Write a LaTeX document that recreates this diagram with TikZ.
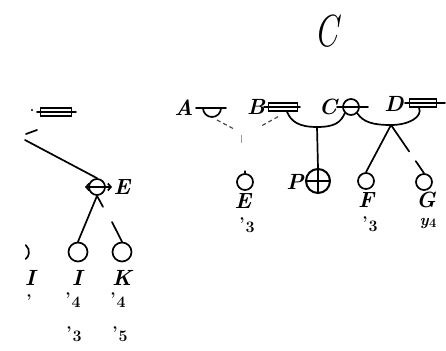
\documentclass[tikz,border=0pt]{standalone}
\usepackage{fontspec}
\usetikzlibrary{calc,arrows.meta}
\newcommand\tkmark[1]{\raisebox{1pt}{\fontsize{17}{17}\selectfont\bfseries'}\kern0.8pt\raisebox{-2pt}{\fontsize{16}{16}\selectfont\bfseries #1}}
\begin{document}
\begin{tikzpicture}[x=1pt,y=-1pt,
  lbl/.style={font=\bfseries\itshape\fontsize{22}{22}\selectfont, inner sep=0pt},
  subl/.style={font=\bfseries\fontsize{16}{16}\selectfont, inner sep=0pt},
  ln/.style={line width=1.7pt, line cap=round},
  circ/.style={draw, circle, line width=1.7pt, inner sep=0pt, minimum size=#1},
  circ/.default=16pt,
  rbox/.style={draw, rectangle, line width=1.4pt, inner sep=0pt, minimum width=29pt, minimum height=8pt},
  dsh/.style={line width=1.2pt, dashed, dash pattern=on 4pt off 3pt, black!70}]
\useasboundingbox (0,0) rectangle (446,350);

% title
\node[inner sep=0pt] (title) at (326,31) {\scalebox{0.75}[1]{\fontsize{45}{45}\selectfont\itshape C}};

% ---------- right part, top row ----------
\node[lbl] (lA) at (184,108) {A};
\coordinate (A) at (212,108);
\draw[ln] ([xshift=-16pt]A) -- ([xshift=14pt]A);
\draw[ln] ([xshift=-9pt]A) arc[start angle=180, end angle=0, radius=9];

\node[lbl] (lB) at (256,107) {B};
\node[rbox] (B) at (283,107) {};
\draw[ln] (264,107) -- (300,107);

\node[lbl] (lC) at (328,107) {C};
\node[circ] (C) at (351,107) {};
\draw[ln] (337,107) -- (368,107);

\node[lbl] (lD) at (394,104) {D};
\node[rbox, minimum width=27pt] (D) at (423,103) {};
\draw[ln] (405,103) -- (445,103);

% junctions
\coordinate (jBC) at (317,127);
\coordinate (jCD) at (391,125);

% ---------- right part, bottom row ----------
\node[circ] (Ec) at (245,182) {};
\draw[ln] (Ec.north) -- ++(0,-2);
\node[lbl] (lE) at (243,201) {E};
\node[subl] (sE) at (247,225) {\tkmark{3}};

\node[lbl] (lP) at (295,182) {P};
\node[circ=24pt, line width=2pt] (P) at (318,181) {};
\draw[line width=2pt] (P.west) -- (P.east) (P.north) -- (P.south);

\node[circ] (F) at (366,181) {};
\node[lbl] (lF) at (366,200) {F};
\node[subl] (sF) at (370,224) {\tkmark{3}};

\node[circ] (G) at (424,182) {};
\node[lbl] (lG) at (426,200) {G};
\node[subl] (sG) at (428,223) {{\itshape y}\kern0.5pt\raisebox{-2pt}{\fontsize{13}{13}\selectfont 4}};

% connectors, right part
\draw[ln] ([xshift=4pt]B.south) .. controls +(4,10) and +(-18,0) .. (jBC)
          .. controls +(18,0) and +(-4,9) .. (C.south west);
\draw[ln] (C.south east) .. controls +(6,9) and +(-18,0) .. (jCD)
          .. controls +(18,0) and +(4,9) .. ([xshift=-4pt]D.south);
\draw[ln] (jBC) -- (P.north);
\draw[ln] (jCD) -- (F.north);
\draw[ln] (jCD) -- ($(jCD)!0.55!(G.north)$);
\draw[ln] ($(jCD)!0.75!(G.north)$) -- (G.north);
\draw[dsh] ($(A)+(5,12)$) -- ++(17,9);
\draw[dsh] ($(B.south)+(-5,5)$) -- ++(-18,10);
\draw[line width=0.8pt, black!40] (241,135) -- (241,143);

% ---------- left part ----------
\node[rbox, minimum width=31pt] (LR) at (56,112) {};
\draw[ln] (37,112) -- (76,112);
\fill (32,110) circle (1.2pt);
\coordinate (lt) at (25,140);
\draw[ln] (26,134) -- (37,130);

\node[circ] (LE) at (97,187) {};
\draw[ln, {Straight Barb[length=3pt,width=7pt]}-{Straight Barb[length=3pt,width=7pt]}] (85,187) -- (112,187);
\node[lbl] (lLE) at (122,187) {E};
\draw[ln] (lt) -- (LE.north);

\node[circ=19pt] (I) at (78,252) {};
\node[circ=19pt] (K) at (122,252) {};
\coordinate (kk) at (112,222);
\draw[ln] (LE.south) -- (I.north);
\draw[ln] (LE.south) -- ++(6,11);
\draw[ln] (kk) -- (K.north);
\draw[ln] (20,252) ++(-50:9) arc[start angle=-50, end angle=50, radius=9];

\node[lbl] (lI0) at (30,278) {I};
\node[lbl] (lI) at (77,278) {I};
\node[lbl] (lK) at (122,278) {K};
\node[subl] (s0) at (29,301) {\fontsize{17}{17}\selectfont\bfseries'};
\node[subl] (sI) at (73,300) {\tkmark{4}};
\node[subl] (sK) at (118,300) {\tkmark{4}};
\node[subl] (sI2) at (74,334) {\tkmark{3}};
\node[subl] (sK2) at (120,334) {\tkmark{5}};
\end{tikzpicture}
\end{document}
